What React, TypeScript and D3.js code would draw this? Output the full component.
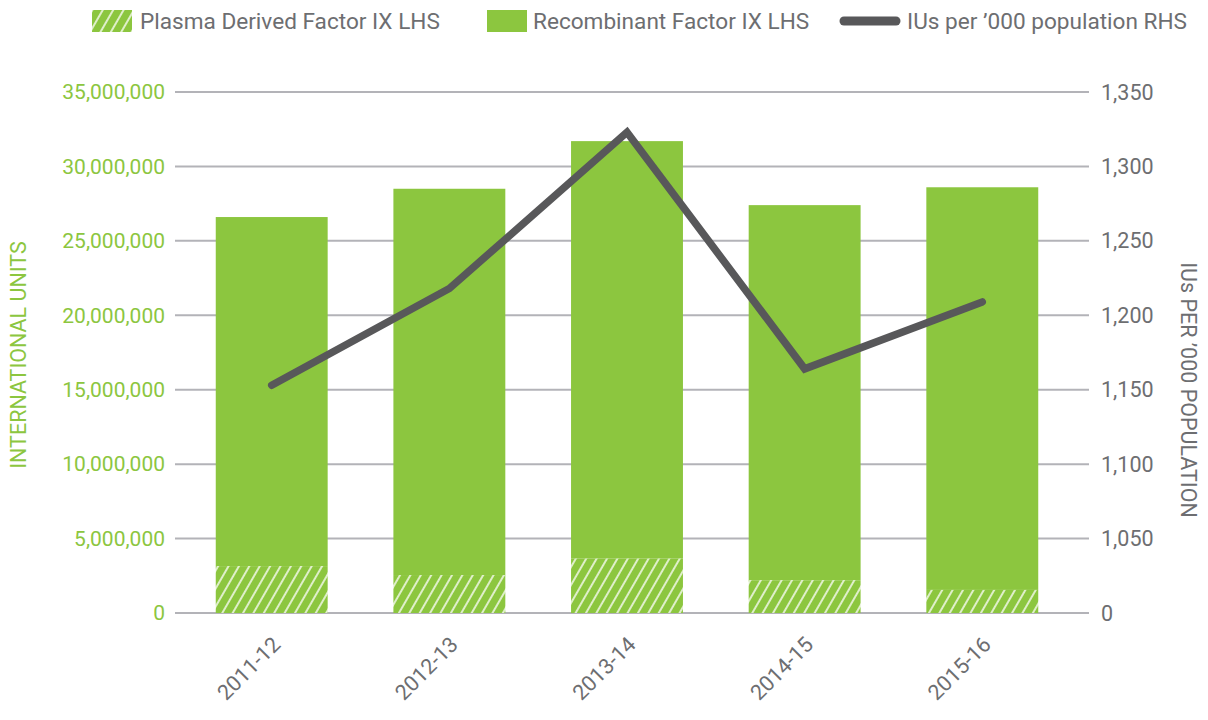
import React from "react";
import * as d3 from "d3";

const categories = ["2011-12", "2012-13", "2013-14", "2014-15", "2015-16"];
const plasmaDerived = [3150000, 2550000, 3650000, 2200000, 1550000];
const totalFactorIX = [26600000, 28500000, 31700000, 27400000, 28600000];
const recombinant = totalFactorIX.map((t, i) => t - plasmaDerived[i]);
const iusPerThousand = [1153, 1218, 1323, 1164, 1209];
const leftTicks = [0, 5000000, 10000000, 15000000, 20000000, 25000000, 30000000, 35000000];
const rightTicks = [1000, 1050, 1100, 1150, 1200, 1250, 1300, 1350];

const W = 1208;
const H = 720;
const GREEN = "#8cc63f";
const DARK = "#58585a";
const GRID = "#b3b3b8";
const TEXT = "#6d6e71";
const FONT = "Roboto, 'Open Sans', sans-serif";

export default function App() {
  const top = 92;
  const bottom = 613;
  const left = 175;
  const right = 1089;

  const y = d3.scaleLinear().domain([0, 35000000]).range([bottom, top]);
  const yR = d3.scaleLinear().domain([1000, 1350]).range([bottom, top]);
  const x = d3.scaleBand().domain(categories).range([182, 1072]).paddingInner(0.37).paddingOuter(0.19);
  const fmt = d3.format(",");
  const fmtR = (v: number) => (v === 1000 ? "0" : d3.format(",")(v));

  const line = d3
    .line<number>()
    .x((_, i) => (x(categories[i]) as number) + x.bandwidth() / 2)
    .y((d) => yR(d));

  return (
    <svg width={W} height={H} style={{ position: "absolute", left: 0, top: 0, background: "#fff" }}>
      <defs>
        <pattern id="hatch" width="9" height="9" patternUnits="userSpaceOnUse" patternTransform="rotate(30)">
          <rect width="9" height="9" fill={GREEN} />
          <line x1="4" y1="0" x2="4" y2="9" stroke="#fff" strokeWidth="1.6" opacity="0.9" />
        </pattern>
      </defs>

      {/* Legend */}
      <g fontFamily={FONT} fontSize={22.6} fill={TEXT}>
        <rect x={92} y={10} width={40} height={22} fill="url(#hatch)" />
        <text x={140} y={29}>Plasma Derived Factor IX LHS</text>
        <rect x={487} y={10} width={40} height={22} fill={GREEN} />
        <text x={533} y={29}>Recombinant Factor IX LHS</text>
        <line x1={844} y1={21} x2={896} y2={21} stroke={DARK} strokeWidth={9} strokeLinecap="round" />
        <text x={907} y={29}>IUs per ’000 population RHS</text>
      </g>

      {/* Grid lines */}
      {leftTicks.map((t) => (
        <line key={t} x1={left} x2={right} y1={y(t)} y2={y(t)} stroke={GRID} strokeWidth={2} />
      ))}

      {/* Left axis labels */}
      <g fontFamily={FONT} fontSize={21} fill={GREEN} textAnchor="end">
        {leftTicks.map((t) => (
          <text key={t} x={165} y={y(t)} dy="0.35em">
            {fmt(t)}
          </text>
        ))}
      </g>
      <text
        transform={`translate(26,355) rotate(-90)`}
        textAnchor="middle"
        fontFamily={FONT}
        fontSize={21.5}
        fill={GREEN}
      >
        INTERNATIONAL UNITS
      </text>

      {/* Right axis labels */}
      <g fontFamily={FONT} fontSize={21.5} fill={TEXT} textAnchor="start">
        {rightTicks.map((t) => (
          <text key={t} x={1101} y={yR(t)} dy="0.35em">
            {fmtR(t)}
          </text>
        ))}
      </g>
      <text
        transform={`translate(1181,390) rotate(90)`}
        textAnchor="middle"
        fontFamily={FONT}
        fontSize={21.5}
        fill={TEXT}
      >
        IUs  PER ’000 POPULATION
      </text>

      {/* Bars */}
      {categories.map((c, i) => (
        <g key={c}>
          <rect
            x={x(c)}
            y={y(plasmaDerived[i] + recombinant[i])}
            width={x.bandwidth()}
            height={y(plasmaDerived[i]) - y(plasmaDerived[i] + recombinant[i])}
            fill={GREEN}
          />
          <rect
            x={x(c)}
            y={y(plasmaDerived[i])}
            width={x.bandwidth()}
            height={y(0) - y(plasmaDerived[i])}
            fill="url(#hatch)"
          />
        </g>
      ))}

      {/* Line */}
      <path d={line(iusPerThousand) || ""} fill="none" stroke={DARK} strokeWidth={7.5} strokeLinejoin="miter" strokeLinecap="round" />

      {/* X labels */}
      <g fontFamily={FONT} fontSize={21.5} fill={TEXT} textAnchor="end">
        {categories.map((c) => {
          const cx = (x(c) as number) + x.bandwidth() / 2 + 10;
          const cy = 646;
          return (
            <text key={c} transform={`translate(${cx},${cy}) rotate(-45)`}>
              {c}
            </text>
          );
        })}
      </g>
    </svg>
  );
}
